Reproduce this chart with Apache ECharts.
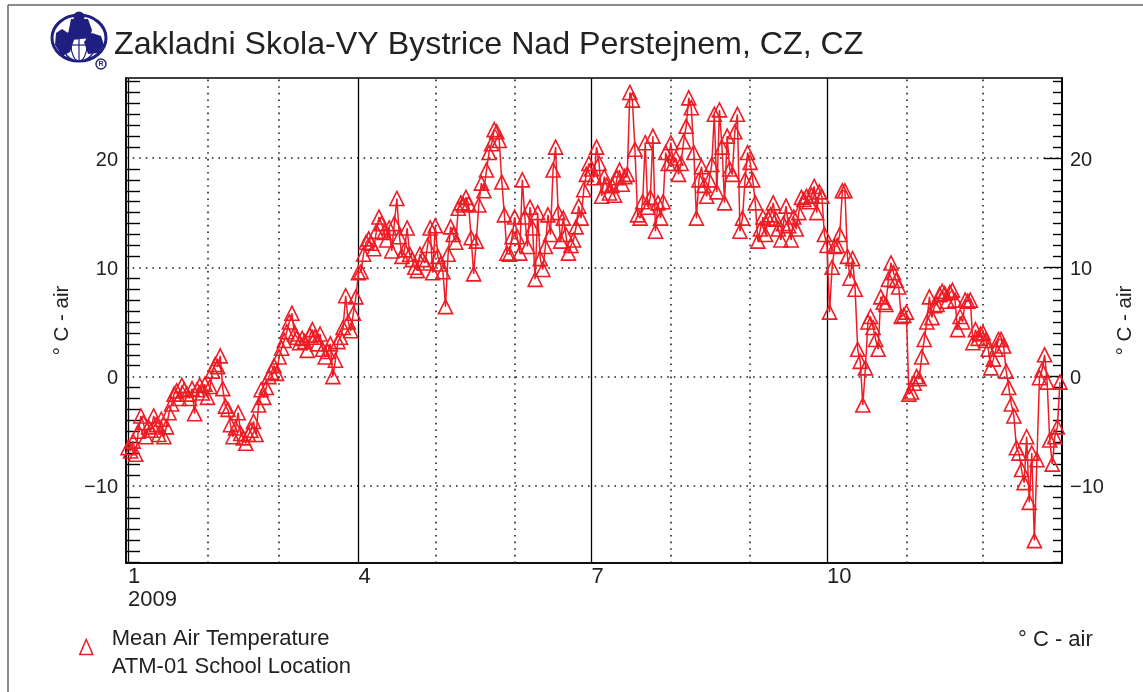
<!DOCTYPE html>
<html><head><meta charset="utf-8">
<style>html,body{margin:0;padding:0;background:#fff}#c{width:1143px;height:692px}</style>
<script src="https://cdn.jsdelivr.net/npm/echarts@6/dist/echarts.min.js"></script>
</head><body><div id="c"></div>
<script>
const titleText = 'Zakladni Skola-VY Bystrice Nad Perstejnem, CZ, CZ';
const unitText = '° C - air';
const seriesName = 'Mean Air Temperature\nATM-01 School Location';
const monthStarts = [0,31,59,90,120,151,181,212,243,273,304,334];
const quarterStarts = [0,90,181,273];
const quarterLabels = {0:'1\n2009',90:'4',181:'7',273:'10'};
const yLabels = [-10,0,10,20];
const yTicks = [-17,-16,-15,-14,-13,-12,-11,-9,-8,-7,-6,-5,-4,-3,-2,-1,1,2,3,4,5,6,7,8,9,11,12,13,14,15,16,17,18,19,21,22,23,24,25,26,27];
const jan = [-6.5,-6.8,-5.9,-7.1,-5,-3.6,-4.2,-5.5,-4.6,-4.9,-3.6,-4.4,-5.3,-3.9,-5.5,-4.6,-3.3,-2.5,-1.6,-1.3,-2,-0.8,-1.2,-1.6,-2,-1.1,-3.4,-1.2,-0.8,-1.5,-0.7];
const feb = [-1.9,-0.9,0.5,1.1,0.9,1.9,-1.1,-2.7,-3.0,-4.4,-5.5,-4.7,-3.3,-5.2,-5.6,-6.1,-5.3,-4.9,-4.1,-5.3,-2.6,-1.2,-1.9,-1.0,0.0,0.4,1.0,0.3];
const mar = [1.8,2.6,3.3,4.1,5.0,5.8,3.9,3.6,3.1,3.5,3.2,2.4,3.8,4.3,3.6,3.0,3.9,2.5,1.8,2.3,3.0,0.0,1.5,3.2,3.6,4.5,7.4,5.0,4.2,5.8,7.3];
const apr = [9.5,9.6,11.2,12.3,12.6,12.2,11.7,13.3,14.6,14.0,13.2,12.5,13.6,11.5,14.0,16.3,12.8,11.0,11.6,13.6,11.2,10.7,10.0,9.7,11.2,10.7,10.4,12.0,13.6,9.5];
const may = [13.8,11.0,10.3,9.6,6.4,11.2,13.7,13.0,12.3,15.4,15.9,15.7,16.4,15.8,12.7,9.4,12.4,15.7,17.7,17.0,18.9,20.5,21.3,22.6,22.4,21.6,17.8,14.8,11.3,11.2,12.8];
const jun = [14.6,12.8,11.3,18,14.6,11.9,15.5,13.6,8.9,15,10.8,9.8,11.9,14.8,13,18.9,21,15,12.4,14.5,13.0,11.3,12.0,12.5,13.7,15.6,14.5,17.1,18.5,19.5];
const jul = [19.0,18.2,21,19.5,16.5,18.3,17.5,16.8,17.5,16.6,18.2,18.9,17.6,18.3,18.5,26,25.3,20.8,14.8,14.5,16,21.4,15.5,16.4,22,13.3,15.9,14.5,16,20.5,19.5];
const aug = [21.4,19.5,20,18.5,19.5,21.5,22.9,25.5,24.6,20.5,14.5,18,19.2,17.5,16.5,18,19.4,24,16.9,24.4,21,15.9,22,19,18.5,22.4,24,13.3,14.5,18,20.5];
const sep = [19.6,18,15.9,12.4,13.5,14.6,13,14.5,14.8,15.9,14.4,13.5,12.5,14,15.6,13.8,12.5,14.6,13.5,15,16.4,16.2,16.5,16,16.6,17.4,15,16.9,16.5,13.0];
const oct = [12,5.9,10,11.9,12,13,17,17,11,9,10.8,8,2.5,1.4,-2.6,0.8,5,5.5,4.5,3.4,2.5,7.3,6.8,6.6,8.9,10.4,9.5,8.8,8.2,5.5,5.6];
const nov = [5.9,-1.6,-1.4,-0.6,0,-0.2,1.8,3.4,5,7.3,5.4,6.5,6.6,7.5,7.8,7.6,6.9,7.7,7.9,7,4.3,5.5,5,7,6.9,7,3.1,4.3,3.5,3.9];
const dec = [4,3.3,2.5,0.8,1.6,2.5,3.4,3.4,2.8,0.5,-1,-2.5,-3.6,-6.5,-7,-8.5,-9.7,-5.5,-11.5,-7,-15,-7.6,-0.1,0.6,2,-0.5,-5.8,-8,-5.5,-4.6,-0.5];

const temps = [].concat(jan,feb,mar,apr,may,jun,jul,aug,sep,oct,nov,dec);
const points = temps.map((v,i)=>[i,v]);
const RED = '#ee1c25', INK = '#222';
const fontFamily = '"Liberation Sans", Arial, sans-serif';
const hair = {symbol:'none',silent:true,label:{show:false}};
const navy = '#1f1f7f';

const chart = echarts.init(document.getElementById('c'),null,{renderer:'canvas'});
const baseY = {type:'value',min:-17.05,max:27.32,scale:false,splitLine:{show:false},axisLine:{show:true,onZero:false,lineStyle:{color:'#000',width:1.5}}};
const yLabelStyle = {customValues:yLabels,color:INK,fontSize:20,margin:8,
  formatter:v=>'{a|'+String(v).replace('-','\u2212')+'}',
  rich:{a:{color:INK,fontSize:20,fontFamily,padding:[4,0,0,0]}}};
chart.setOption({
  animation:false,
  backgroundColor:'#fff',
  textStyle:{fontFamily},
  title:{text:titleText,left:109,top:24,textStyle:{fontSize:32.2,fontWeight:'normal',color:INK,fontFamily}},
  legend:{data:[seriesName],left:74,top:620,orient:'vertical',icon:'path://M6.5 0 L13 15 L0 15 Z M6.5 27 L6.5 27',itemWidth:13,itemHeight:27,selectedMode:false,
    itemStyle:{color:'transparent',borderColor:RED,borderWidth:1.5},
    textStyle:{color:INK,fontSize:22,lineHeight:28,fontFamily,padding:[0,0,0,14]}},
  grid:{left:126,right:81,top:78,bottom:129,outerBoundsMode:'none',containLabel:false,show:true,borderColor:'#000',borderWidth:1.5,backgroundColor:'#fff'},
  xAxis:{type:'value',min:-0.8,max:364.8,splitLine:{show:false},
    axisLine:{show:true,onZero:false,lineStyle:{color:'#000',width:1.5}},axisTick:{show:false},
    axisLabel:{show:true,customValues:quarterStarts,formatter:v=>quarterLabels[v]||'',color:INK,fontSize:22,lineHeight:23,margin:2,align:'left',verticalAlign:'top',hideOverlap:false,showMinLabel:true,showMaxLabel:true}},
  yAxis:[
    Object.assign({},baseY,{position:'left',name:unitText,nameLocation:'middle',nameGap:52,nameRotate:90,nameTextStyle:{color:INK,fontSize:20.5,fontFamily},
      axisTick:{show:true,inside:true,length:14,customValues:yTicks,lineStyle:{color:'#000',width:1.4}},
      axisLabel:yLabelStyle}),
    Object.assign({},baseY,{position:'right',name:unitText,nameLocation:'middle',nameGap:50,nameRotate:90,nameTextStyle:{color:INK,fontSize:20.5,fontFamily},
      axisTick:{show:true,inside:true,length:9,customValues:yTicks,lineStyle:{color:'#000',width:1.4}},
      axisLabel:yLabelStyle}),
    Object.assign({},baseY,{position:'right',
      axisTick:{show:true,inside:true,length:18,customValues:yLabels,lineStyle:{color:'#000',width:1.4}},
      axisLabel:{show:false}})
  ],
  series:[
    {name:'dotted grid',type:'line',data:[],z:1,markLine:Object.assign({},hair,{z:1,
      lineStyle:{color:'#222',type:[1.6,5],width:1.6},
      data:monthStarts.filter(m=>!quarterStarts.includes(m)).map(m=>({xAxis:m})).concat(yLabels.map(v=>({yAxis:v})))})},
    {name:'quarter lines',type:'line',data:[],z:1,markLine:Object.assign({},hair,{z:1,
      lineStyle:{color:'#000',type:'solid',width:1.3},
      data:quarterStarts.map(m=>({xAxis:m}))})},
    {name:seriesName,type:'line',data:points,z:3,symbol:'triangle',symbolSize:14,showSymbol:true,showAllSymbols:true,
      connectNulls:true,clip:false,
      lineStyle:{color:RED,width:1.5},
      itemStyle:{color:'transparent',borderColor:RED,borderWidth:1.6}}
  ],
  graphic:[
    {type:'line',shape:{x1:8,y1:5,x2:1143,y2:5},style:{stroke:'#666',lineWidth:1.5},silent:true},
    {type:'line',shape:{x1:8,y1:5,x2:8,y2:692},style:{stroke:'#666',lineWidth:1.5},silent:true},
    {type:'text',left:1018,top:629,style:{text:unitText,font:'22px '+fontFamily,fill:INK}},
    {type:'group',silent:true,children:[
      {type:'ellipse',shape:{cx:79,cy:38,rx:27,ry:23},style:{fill:'#fff',stroke:navy,lineWidth:3}},
      {type:'circle',shape:{cx:79,cy:45,r:16},style:{fill:'#fff',stroke:navy,lineWidth:1.5}},
      {type:'line',shape:{x1:63,y1:45,x2:95,y2:45},style:{stroke:navy,lineWidth:1.2}},
      {type:'line',shape:{x1:79,y1:29,x2:79,y2:61},style:{stroke:navy,lineWidth:1.2}},
      {type:'ellipse',shape:{cx:79,cy:45,rx:8,ry:16},style:{fill:'none',stroke:navy,lineWidth:1.2}},
      {type:'polygon',shape:{points:[[68,34],[71,19],[88,19],[92,30],[90,38],[72,40]]},style:{fill:navy}},
      {type:'circle',shape:{cx:79,cy:17,r:5.5},style:{fill:navy}},
      {type:'polygon',shape:{points:[[55,45],[56,33],[62,29],[68,33],[74,40],[70,52],[62,56]]},style:{fill:navy}},
      {type:'polygon',shape:{points:[[88,54],[84,42],[92,33],[101,36],[104,45],[98,53]]},style:{fill:navy}},
      {type:'circle',shape:{cx:101,cy:64,r:5},style:{fill:'#fff',stroke:navy,lineWidth:1.4}},
      {type:'text',x:101,y:64,style:{text:'R',font:'bold 7px '+fontFamily,fill:navy,align:'center',verticalAlign:'middle'}}
    ]}
  ]
});
</script></body></html>
